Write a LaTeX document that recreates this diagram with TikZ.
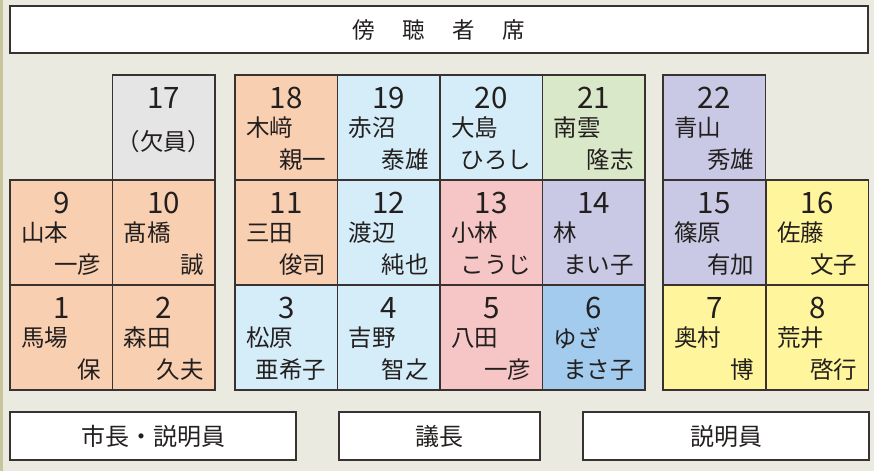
\documentclass[tikz,border=0pt]{standalone}
\usepackage{fontspec}
\setmainfont{Noto Sans CJK JP}
\definecolor{bgc}{HTML}{EBEAE0}
\definecolor{stripc}{HTML}{C8C59C}
\definecolor{linec}{HTML}{3A3231}
\definecolor{txtc}{HTML}{231F1E}
\definecolor{peach}{HTML}{F9CFB2}
\definecolor{lblue}{HTML}{D5ECF9}
\definecolor{greyc}{HTML}{E5E5E5}
\definecolor{greenc}{HTML}{D9E8C8}
\definecolor{lav}{HTML}{C9C9E5}
\definecolor{pinkc}{HTML}{F6C6C7}
\definecolor{dblue}{HTML}{A2CBEE}
\definecolor{yellc}{HTML}{FFF59C}
\tikzset{
  cell/.style={draw=linec, line width=1.5pt, inner sep=0pt, outer sep=0pt, anchor=north west, minimum width=102.5pt, minimum height=105pt},
  bar/.style={draw=linec, line width=1.5pt, fill=white, inner sep=0pt, outer sep=0pt, anchor=north west},
  num/.style={text=txtc, font=\fontsize{29.5}{32}\selectfont, inner sep=0pt},
  nm/.style={text=txtc, font=\fontsize{23.5}{27}\selectfont, inner sep=0pt},
  lbl/.style={text=txtc, font=\fontsize{24}{27}\selectfont, inner sep=0pt}
}
\newcommand\seatcell[7]{%
  \node[cell, fill=#4] (#1) at (#2,#3) {};
  \node[num] (#1n) at ([yshift=-23pt]#1.north) {#5};
  \node[nm, anchor=west] (#1s) at ([xshift=11pt,yshift=-53pt]#1.north west) {#6};
  \node[nm, anchor=east] (#1g) at ([xshift=-11pt,yshift=-85pt]#1.north east) {#7};
}
\begin{document}
\begin{tikzpicture}[x=1pt,y=-1pt]
\fill[bgc] (0,0) rectangle (874,471);
\useasboundingbox (0,0) rectangle (874,471);
\fill[stripc] (0,0) rectangle (3,471);
% top bar
\node[bar, minimum width=858pt, minimum height=47pt] (gallery) at (10,6) {};
\node[lbl, font=\fontsize{22.5}{26}\selectfont] (gallerylbl) at (gallery.center) {傍\hspace{27.5pt}聴\hspace{27.5pt}者\hspace{27.5pt}席};
% seat 17
\node[cell, fill=greyc] (c17) at (112.5,75) {};
\node[num] (c17n) at ([yshift=-23pt]c17.north) {17};
\node[nm] (c17s) at ([yshift=-67pt]c17.north) {（欠員）};
% row 1
\seatcell{c18}{235}{75}{peach}{18}{木﨑}{親一}
\seatcell{c19}{337.5}{75}{lblue}{19}{赤沼}{泰雄}
\seatcell{c20}{440}{75}{lblue}{20}{大島}{ひろし}
\seatcell{c21}{542.5}{75}{greenc}{21}{南雲}{隆志}
\seatcell{c22}{663}{75}{lav}{22}{青山}{秀雄}
% row 2
\seatcell{c9}{10}{180}{peach}{9}{山本}{一彦}
\seatcell{c10}{112.5}{180}{peach}{10}{髙橋}{誠}
\seatcell{c11}{235}{180}{peach}{11}{三田}{俊司}
\seatcell{c12}{337.5}{180}{lblue}{12}{渡辺}{純也}
\seatcell{c13}{440}{180}{pinkc}{13}{小林}{こうじ}
\seatcell{c14}{542.5}{180}{lav}{14}{林}{まい子}
\seatcell{c15}{663}{180}{lav}{15}{篠原}{有加}
\seatcell{c16}{766}{180}{yellc}{16}{佐藤}{文子}
% row 3
\seatcell{c1}{10}{285}{peach}{1}{馬場}{保}
\seatcell{c2}{112.5}{285}{peach}{2}{森田}{久夫}
\seatcell{c3}{235}{285}{lblue}{3}{松原}{亜希子}
\seatcell{c4}{337.5}{285}{lblue}{4}{吉野}{智之}
\seatcell{c5}{440}{285}{pinkc}{5}{八田}{一彦}
\seatcell{c6}{542.5}{285}{dblue}{6}{ゆざ}{まさ子}
\seatcell{c7}{663}{285}{yellc}{7}{奥村}{博}
\seatcell{c8}{766}{285}{yellc}{8}{荒井}{啓行}
% bottom bars
\node[bar, minimum width=286pt, minimum height=48pt] (mayor) at (10,412) {};
\node[lbl] (mayorlbl) at (mayor.center) {市長・説明員};
\node[bar, minimum width=201pt, minimum height=48pt] (chair) at (339,412) {};
\node[lbl] (chairlbl) at (chair.center) {議長};
\node[bar, minimum width=286pt, minimum height=48pt] (expl) at (583,412) {};
\node[lbl] (expllbl) at (expl.center) {説明員};
\end{tikzpicture}
\end{document}
